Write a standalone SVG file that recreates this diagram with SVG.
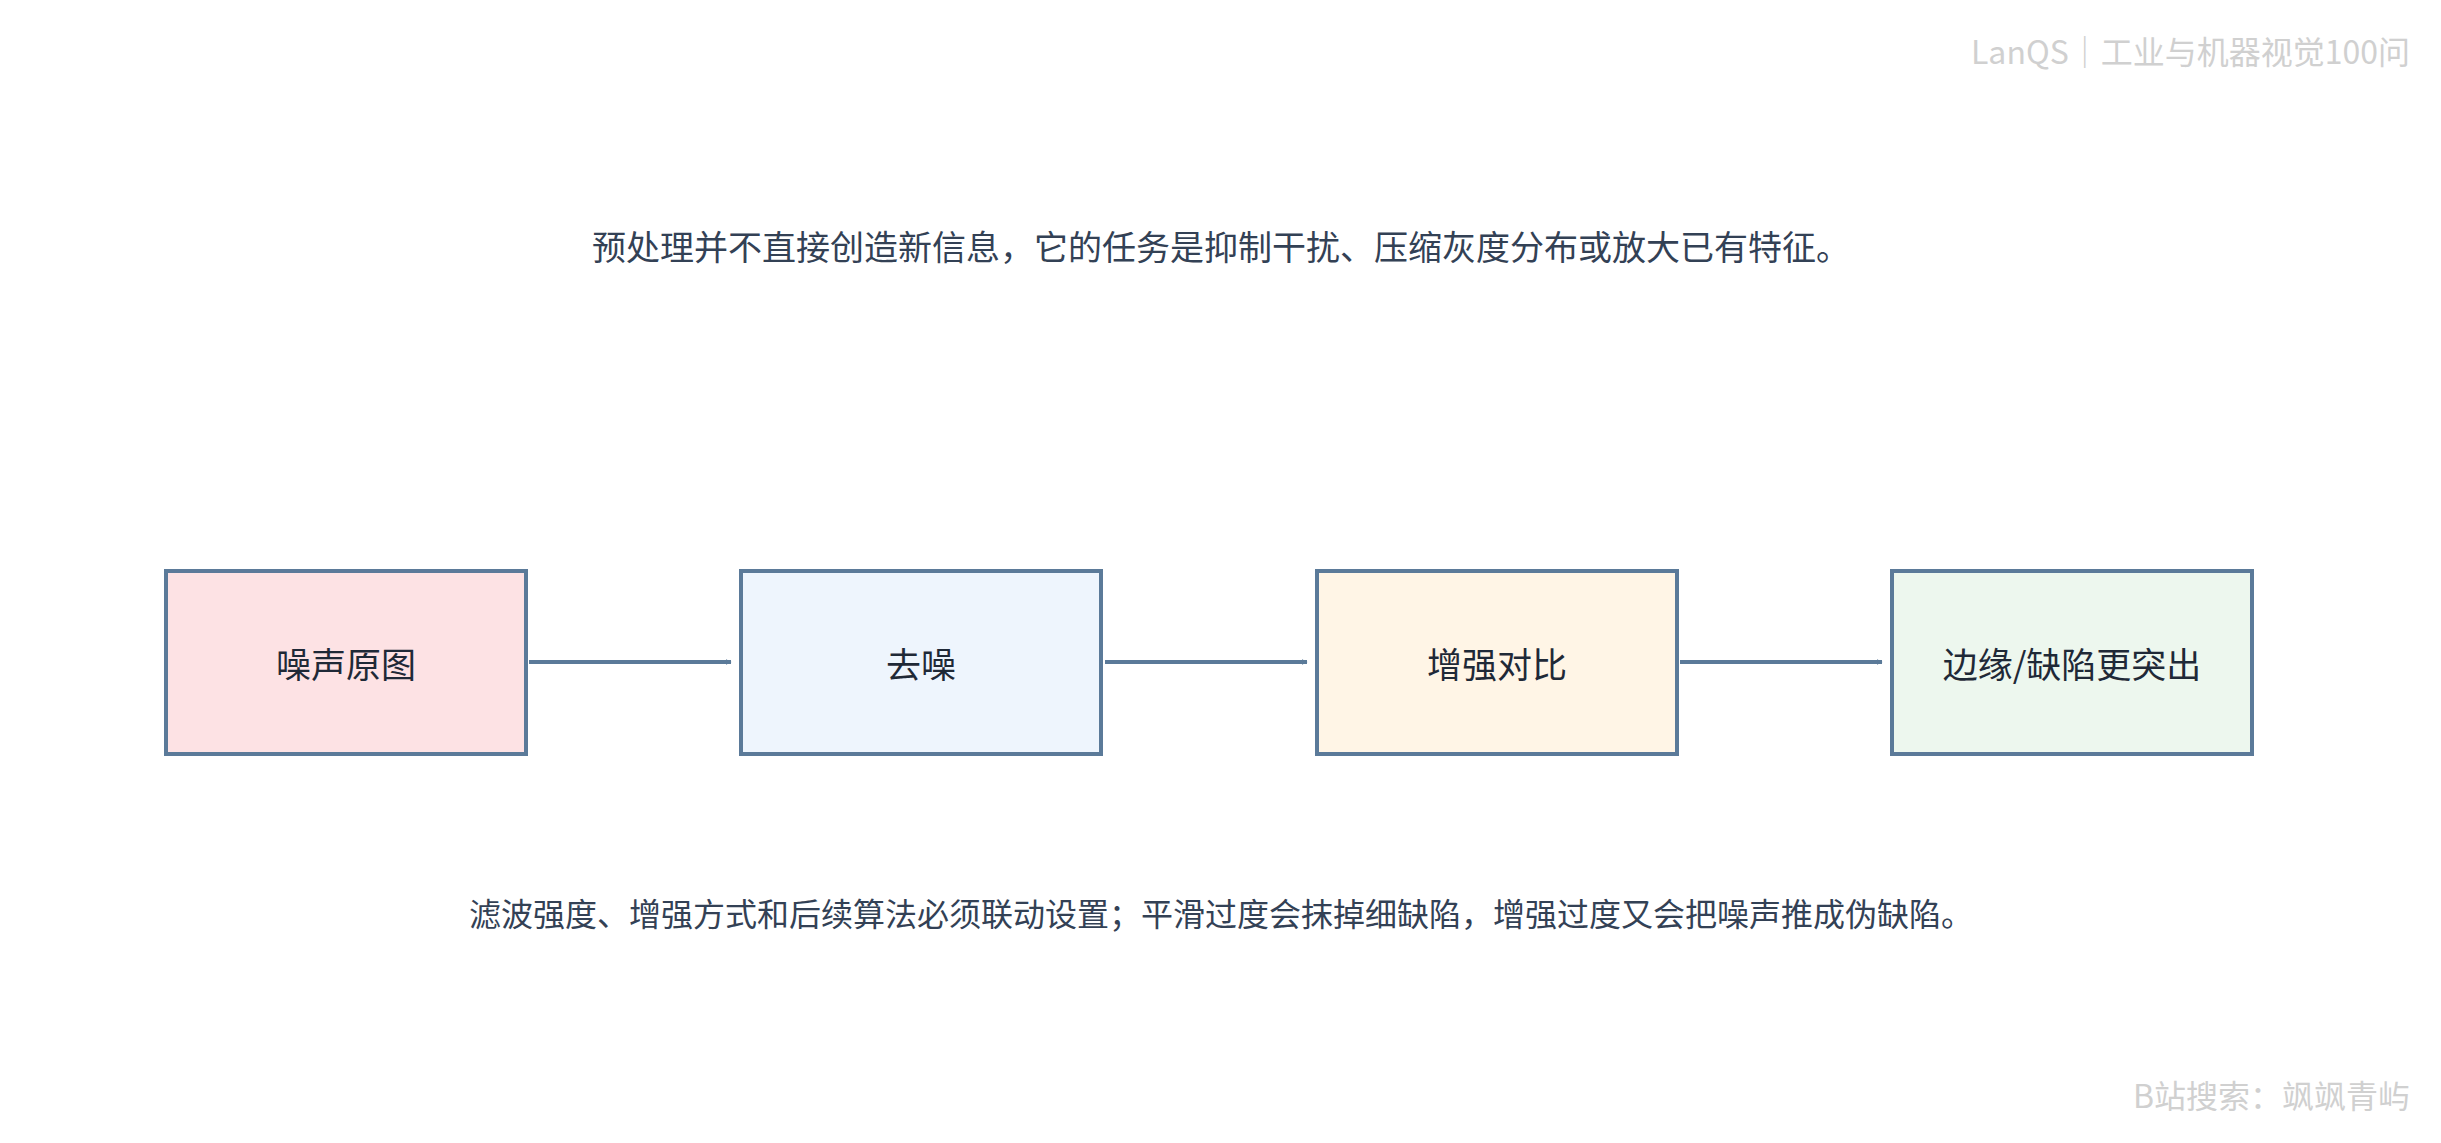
<svg xmlns="http://www.w3.org/2000/svg" width="2441" height="1143" viewBox="0 0 2441 1143">
<style>
text{font-family:"Noto Sans CJK SC","Noto Sans",sans-serif;}
.box{stroke:#5b7a99;stroke-width:4;}
.lbl{font-size:35px;fill:#1f2937;text-anchor:middle;dominant-baseline:central;}
.note{font-size:32px;fill:#334155;text-anchor:middle;}
.wm{font-size:32px;fill:#d0d0d0;text-anchor:end;}
.edge{stroke:#5b7a99;stroke-width:4;fill:none;marker-end:url(#ah);}
</style>
<defs><marker id="ah" viewBox="0 0 10 10" refX="9" refY="5" markerWidth="6" markerHeight="6" markerUnits="userSpaceOnUse" orient="auto"><path d="M0,0 L10,5 L0,10 z" fill="#5b7a99" transform="scale(1)"/></marker></defs>
<rect width="2441" height="1143" fill="#fff"/>
<text class="wm" x="2410" y="64">LanQS｜工业与机器视觉100问</text>
<text class="wm" x="2410" y="1108">B站搜索：飒飒青屿</text>
<text class="note" x="1221" y="260" style="font-size:34px">预处理并不直接创造新信息，它的任务是抑制干扰、压缩灰度分布或放大已有特征。</text>
<text class="note" x="1221" y="926">滤波强度、增强方式和后续算法必须联动设置；平滑过度会抹掉细缺陷，增强过度又会把噪声推成伪缺陷。</text>
<g id="connectors">
<path class="edge" d="M529 662 H731" marker-end="url(#ah2)"/>
<path class="edge" d="M1105 662 H1307" marker-end="url(#ah2)"/>
<path class="edge" d="M1680 662 H1882" marker-end="url(#ah2)"/>
</g>
<defs><marker id="ah2" viewBox="0 0 10 10" refX="10" refY="5" markerWidth="22" markerHeight="20" markerUnits="userSpaceOnUse" orient="auto"><path d="M0,0 L10,5 L0,10 z" fill="#5b7a99"/></marker></defs>
<g id="n1"><rect class="box" x="166" y="571" width="360" height="183" fill="#fde2e4"/><text class="lbl" x="346" y="662">噪声原图</text></g>
<g id="n2"><rect class="box" x="741" y="571" width="360" height="183" fill="#eef5fd"/><text class="lbl" x="921" y="662">去噪</text></g>
<g id="n3"><rect class="box" x="1317" y="571" width="360" height="183" fill="#fff5e6"/><text class="lbl" x="1497" y="662">增强对比</text></g>
<g id="n4"><rect class="box" x="1892" y="571" width="360" height="183" fill="#edf7ee"/><text class="lbl" x="2072" y="662">边缘/缺陷更突出</text></g>
</svg>
